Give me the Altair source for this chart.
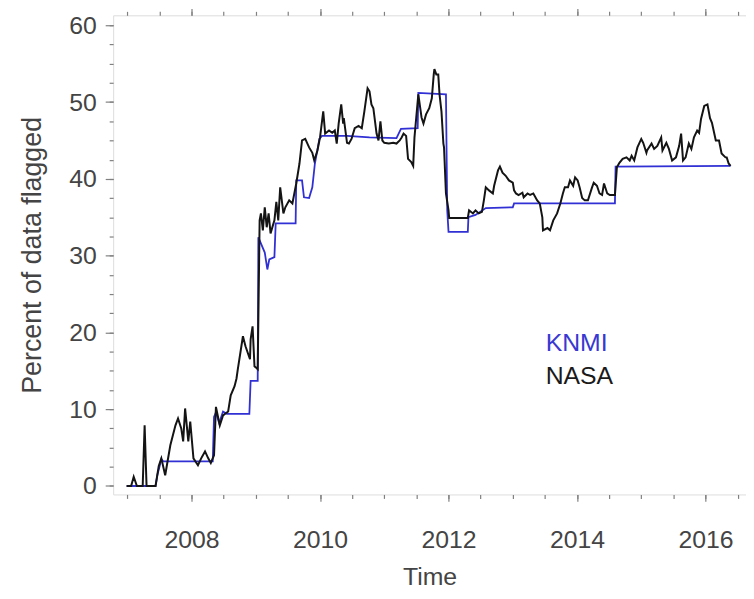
import altair as alt
import pandas as pd

# ---- data (decimal year, percent flagged) ----
nasa_year = [2006.99, 2007.06, 2007.10, 2007.15, 2007.24, 2007.27, 2007.30, 2007.44, 2007.49, 2007.53,
             2007.59, 2007.67, 2007.75, 2007.79, 2007.84, 2007.87, 2007.90, 2007.95, 2007.98, 2008.03,
             2008.10, 2008.15, 2008.21, 2008.26, 2008.30, 2008.35, 2008.38, 2008.44, 2008.49, 2008.57,
             2008.61, 2008.67, 2008.70, 2008.72, 2008.80, 2008.84, 2008.91, 2008.92, 2008.95, 2008.98,
             2009.03, 2009.06, 2009.08, 2009.11, 2009.14, 2009.17, 2009.20, 2009.23, 2009.29, 2009.32,
             2009.35, 2009.38, 2009.43, 2009.46, 2009.52, 2009.57, 2009.60, 2009.63, 2009.68, 2009.72,
             2009.77, 2009.83, 2009.88, 2009.91, 2009.96, 2010.00, 2010.05, 2010.08, 2010.14, 2010.19,
             2010.23, 2010.26, 2010.29, 2010.33, 2010.36, 2010.37, 2010.42, 2010.45, 2010.49, 2010.54,
             2010.60, 2010.65, 2010.69, 2010.74, 2010.77, 2010.80, 2010.83, 2010.88, 2010.91, 2010.94,
             2010.97, 2011.00, 2011.07, 2011.14, 2011.19, 2011.24, 2011.27, 2011.30, 2011.34, 2011.37,
             2011.42, 2011.45, 2011.47, 2011.53, 2011.58, 2011.61, 2011.65, 2011.70, 2011.74, 2011.77,
             2011.78, 2011.81, 2011.84, 2011.86, 2011.89, 2011.92, 2011.93, 2011.96, 2012.00, 2012.01,
             2012.30, 2012.32, 2012.38, 2012.42, 2012.47, 2012.52, 2012.55, 2012.58, 2012.63, 2012.69,
             2012.71, 2012.77, 2012.80, 2012.84, 2012.89, 2012.94, 2013.00, 2013.02, 2013.05, 2013.09,
             2013.15, 2013.17, 2013.23, 2013.27, 2013.32, 2013.38, 2013.42, 2013.46, 2013.47, 2013.54,
             2013.58, 2013.63, 2013.69, 2013.74, 2013.78, 2013.81, 2013.86, 2013.89, 2013.94, 2013.97,
             2014.01, 2014.04, 2014.08, 2014.12, 2014.17, 2014.23, 2014.26, 2014.31, 2014.35, 2014.39,
             2014.42, 2014.47, 2014.51, 2014.59, 2014.62, 2014.66, 2014.71, 2014.77, 2014.82, 2014.85,
             2014.89, 2014.94, 2015.00, 2015.03, 2015.08, 2015.09, 2015.16, 2015.20, 2015.25, 2015.31,
             2015.33, 2015.39, 2015.43, 2015.48, 2015.54, 2015.59, 2015.62, 2015.65, 2015.69, 2015.74,
             2015.78, 2015.82, 2015.87, 2015.90, 2015.93, 2015.98, 2016.03, 2016.07, 2016.10, 2016.16,
             2016.21, 2016.25, 2016.31, 2016.33, 2016.36, 2016.39]
nasa_value = [0.0, 0.0, 1.2, 0.0, 0.0, 7.9, 0.0, 0.0, 2.6, 3.6,
              1.4, 5.3, 7.9, 8.8, 7.5, 5.8, 10.1, 5.8, 8.4, 3.6,
              2.7, 3.6, 4.5, 3.6, 3.0, 4.0, 10.3, 7.9, 9.2, 9.7,
              11.8, 13.0, 14.0, 15.2, 19.5, 18.2, 16.5, 19.1, 20.8, 15.6,
              15.2, 34.6, 35.5, 33.3, 36.3, 33.7, 35.5, 32.9, 34.6, 37.0,
              34.6, 38.9, 35.5, 36.3, 37.2, 36.8, 38.1, 39.4, 42.0, 45.0,
              45.2, 44.1, 43.4, 42.4, 43.7, 45.4, 48.8, 45.9, 46.3, 46.0,
              46.3, 44.6, 47.2, 49.7, 47.2, 47.9, 44.7, 44.6, 45.2, 46.6,
              46.9, 46.6, 48.8, 51.8, 51.4, 49.7, 49.2, 45.9, 45.0, 47.5,
              45.0, 44.7, 44.6, 44.7, 44.6, 45.0, 45.4, 45.9, 45.6, 42.6,
              42.2, 41.7, 45.4, 51.0, 48.0, 47.2, 48.4, 49.2, 50.5, 53.6,
              54.3, 53.6, 53.6, 51.0, 48.8, 44.6, 44.1, 38.1, 35.9, 34.9,
              34.9, 35.9, 35.5, 35.9, 35.5, 35.7, 37.2, 38.9, 38.5, 38.1,
              39.1, 41.1, 41.6, 40.8, 40.4, 39.8, 39.5, 38.5, 38.1, 37.9,
              38.2, 37.6, 38.1, 37.9, 38.1, 37.2, 36.8, 35.0, 33.3, 33.6,
              33.3, 34.6, 35.5, 36.8, 38.1, 38.9, 38.9, 39.8, 39.1, 40.2,
              39.8, 38.9, 37.5, 37.2, 37.2, 38.8, 39.5, 39.1, 38.1, 37.9,
              39.4, 38.1, 37.9, 37.9, 41.5, 42.1, 42.6, 42.8, 42.4, 43.0,
              42.4, 44.1, 45.2, 44.7, 43.4, 43.7, 44.6, 43.9, 44.3, 45.4,
              43.7, 44.7, 43.9, 42.4, 42.8, 44.3, 45.9, 42.4, 42.8, 44.6,
              43.9, 45.4, 46.3, 46.0, 47.8, 49.5, 49.7, 47.9, 47.3, 45.0,
              45.0, 43.3, 42.8, 42.8, 42.0, 41.7]

knmi_year = [2006.99, 2007.44, 2007.47, 2007.51, 2007.53, 2007.56, 2008.33, 2008.35, 2008.38, 2008.43,
             2008.49, 2008.55, 2008.90, 2008.92, 2009.03, 2009.04, 2009.06, 2009.14, 2009.18, 2009.21,
             2009.29, 2009.31, 2009.62, 2009.63, 2009.72, 2009.75, 2009.83, 2009.88, 2009.92, 2009.99,
             2010.03, 2010.42, 2010.77, 2011.19, 2011.26, 2011.52, 2011.53, 2011.96, 2011.98, 2012.00,
             2012.30, 2012.31, 2012.42, 2012.58, 2013.00, 2013.02, 2014.59, 2014.60, 2016.39]
knmi_value = [0.0, 0.0, 1.5, 2.8, 3.5, 3.2, 3.2, 9.0, 9.6, 8.2,
              9.7, 9.4, 9.4, 13.7, 13.7, 32.4, 32.0, 30.4, 28.2, 29.5,
              29.8, 34.2, 34.2, 39.8, 39.8, 37.6, 37.5, 38.9, 42.0, 45.2,
              45.6, 45.6, 45.4, 45.3, 46.5, 46.6, 51.2, 51.0, 35.9, 33.1,
              33.1, 35.0, 35.3, 36.2, 36.3, 36.8, 36.8, 41.6, 41.7]

series_names = ["KNMI", "NASA"]
series_colors = ["#3030d4", "#141414"]

x_major = [2008, 2010, 2012, 2014, 2016]
x_minor = [2007 + 0.5 * i for i in range(20)]
y_major = [0, 10, 20, 30, 40, 50, 60]
y_minor = [2.5 * i for i in range(25)]

knmi = pd.DataFrame({"year": knmi_year, "value": knmi_value, "series": "KNMI"})
nasa = pd.DataFrame({"year": nasa_year, "value": nasa_value, "series": "NASA"})

FONT = "Liberation Sans"
GRAY = "#808080"
TXT = "#444444"

xs = alt.Scale(domain=[2006.78, 2016.63], nice=False, zero=False)
ys = alt.Scale(domain=[-1.1, 61.3], nice=False, zero=False)
cs = alt.Scale(domain=series_names, range=series_colors)


def tick_axis(orient, values, size, labels=False, **kw):
    return alt.Axis(orient=orient, values=values, tickSize=size, labels=labels,
                    domain=False, grid=False, tickColor=GRAY, tickWidth=1.2, **kw)


ax_bottom = tick_axis("bottom", x_major, 7, labels=True, format="d", labelFontSize=25,
                      labelPadding=26, labelColor=TXT, labelFont=FONT, title="Time",
                      titleFontSize=25, titleFont=FONT, titleColor=TXT,
                      titleFontWeight="normal", titlePadding=13)
ax_left = tick_axis("left", y_major, 8, labels=True, labelFontSize=25, labelPadding=9,
                    labelColor=TXT, labelFont=FONT, title="Percent of data flagged",
                    titleFontSize=27, titleFont=FONT, titleColor=TXT,
                    titleFontWeight="normal", titlePadding=22)

legend = alt.Legend(orient="none", legendX=411, legendY=318, title=None,
                    symbolSize=0, symbolStrokeWidth=0, symbolOpacity=0,
                    labelFontSize=25, labelFont=FONT, labelOffset=0, rowPadding=7,
                    labelColor={"expr": "datum.value === 'KNMI' ? '#3838d2' : '#1a1a1a'"},
                    padding=0)

knmi_layer = alt.Chart(knmi).mark_line(strokeWidth=1.8).encode(
    x=alt.X("year:Q", scale=xs, axis=ax_bottom),
    y=alt.Y("value:Q", scale=ys, axis=ax_left),
    color=alt.Color("series:N", scale=cs, legend=legend),
)
nasa_layer = alt.Chart(nasa).mark_line(strokeWidth=2).encode(
    x=alt.X("year:Q", scale=xs, axis=None),
    y=alt.Y("value:Q", scale=ys, axis=None),
    color=alt.Color("series:N", scale=cs, legend=legend),
)


def tick_layer(xa, ya):
    return alt.Chart(nasa).mark_line(strokeOpacity=0).encode(
        x=alt.X("year:Q", scale=xs, axis=xa),
        y=alt.Y("value:Q", scale=ys, axis=ya),
    )


t1 = tick_layer(tick_axis("bottom", x_minor, 4, title=None), tick_axis("left", y_minor, 4, title=None))
t2 = tick_layer(tick_axis("top", x_major, 7, title=None), tick_axis("right", y_major, 7, title=None))
t3 = tick_layer(tick_axis("top", x_minor, 4, title=None), tick_axis("right", y_minor, 4, title=None))

chart = alt.layer(knmi_layer, nasa_layer, t1, t2, t3).resolve_axis(
    x="independent", y="independent"
).properties(
    width=638, height=483,
    autosize=alt.AutoSizeParams(type="none"),
    padding={"left": 106, "top": 5, "right": 0, "bottom": 99},
).configure_view(stroke=GRAY, strokeWidth=1.5).configure(font=FONT)

chart.save("out.html", embed_options={"renderer": "svg", "actions": False})
